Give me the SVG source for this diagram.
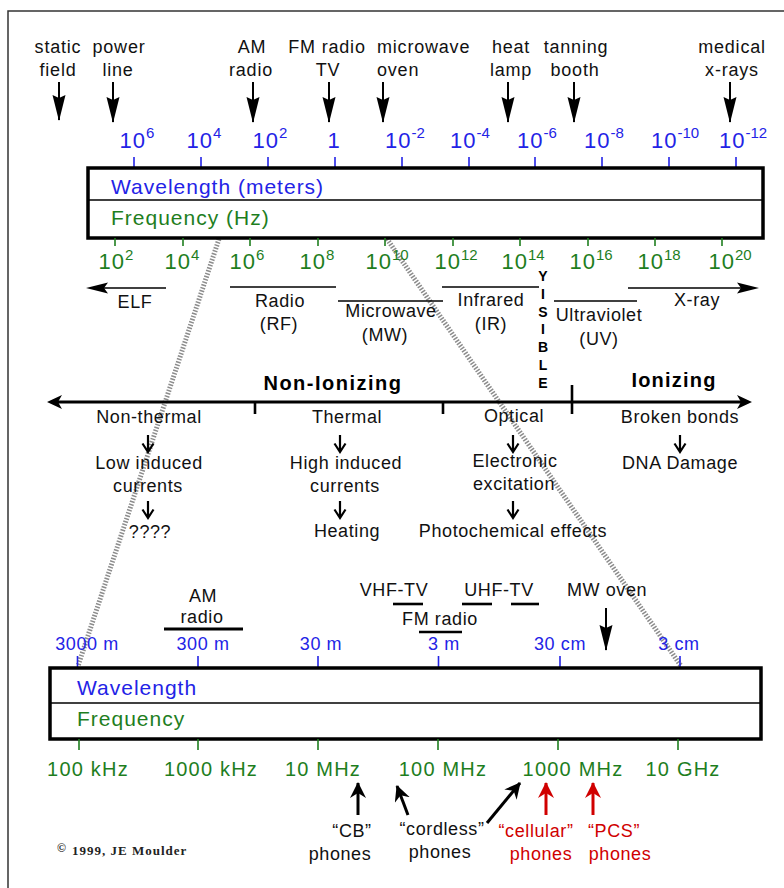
<svg xmlns="http://www.w3.org/2000/svg" width="784" height="888" viewBox="0 0 784 888">
<style>
text{font-family:"Liberation Sans",Arial,sans-serif;}
.lbl{font-size:18px;letter-spacing:0.8px;text-anchor:middle;fill:#111}
.t{font-size:18px;letter-spacing:0.6px;text-anchor:middle;fill:#111}
.red{fill:#d00000}
.wl{font-size:22px;letter-spacing:1px;text-anchor:middle;fill:#2323e6}
.fq{font-size:22px;letter-spacing:1px;text-anchor:middle;fill:#1e7e1e}
.sup{font-size:15px;letter-spacing:0px}
.wlm{font-size:18px;letter-spacing:0.6px;text-anchor:middle;fill:#2323e6}
.fqm{font-size:20px;letter-spacing:1.2px;text-anchor:middle;fill:#1e7e1e}
.title-b{font-size:21px;letter-spacing:1px;fill:#2323e6}
.title-g{font-size:21px;letter-spacing:1px;fill:#1e7e1e}
.bold{font-weight:bold;fill:#000}
.box{fill:#fff;stroke:#000;stroke-width:3.5}
.div{stroke:#000;stroke-width:1.3}
.tb{stroke:#2323e6;stroke-width:1.6}
.tg{stroke:#1e7e1e;stroke-width:1.6}
.band{stroke:#000;stroke-width:1.6}
.hatch{fill:none;stroke:#8c8c8c;stroke-width:5;stroke-dasharray:1.5 1.5}
.arr{stroke:#000;stroke-width:2;fill:none}
.small{stroke:#000;stroke-width:2.2;fill:none}
.ph{stroke:#000;stroke-width:3;fill:none}
.phr{stroke:#d00000;stroke-width:3;fill:none}
</style>
<defs>
<marker id="ah" viewBox="0 -7 26 14" refX="25" refY="0" markerWidth="26" markerHeight="14" markerUnits="userSpaceOnUse" orient="auto">
<path d="M0,-6.5 L26,0 L0,6.5 L3,0 z" fill="#000"/>
</marker>
<marker id="ahB" viewBox="0 -8 16 16" refX="15" refY="0" markerWidth="16" markerHeight="16" markerUnits="userSpaceOnUse" orient="auto">
<path d="M0,-8 L16,0 L0,8 L5,0 z" fill="#000"/>
</marker>
<marker id="ahR" viewBox="0 -8 16 16" refX="15" refY="0" markerWidth="16" markerHeight="16" markerUnits="userSpaceOnUse" orient="auto">
<path d="M0,-8 L16,0 L0,8 L5,0 z" fill="#d00000"/>
</marker>
<path id="sa" d="M0,0 V17 M-5.5,8.5 L0,17 L5.5,8.5"/>
</defs>

<!-- frame -->
<path d="M784,11 H8 V888" fill="none" stroke="#333" stroke-width="1.5"/>

<!-- zoom hatch lines -->
<g id="zoom-lines">
<line class="hatch" x1="219" y1="239" x2="78" y2="666"/>
<line class="hatch" x1="387" y1="239" x2="681" y2="666"/>
</g>

<!-- top source labels -->
<g id="sources">
<text class="lbl" x="58" y="53">static</text><text class="lbl" x="58" y="76">field</text>
<text class="lbl" x="119" y="53">power</text><text class="lbl" x="118" y="76">line</text>
<text class="lbl" x="252" y="53">AM</text><text class="lbl" x="251" y="76">radio</text>
<text class="lbl" x="327" y="53">FM radio</text><text class="lbl" x="328" y="76">TV</text>
<text class="lbl" x="377" y="53" style="text-anchor:start">microwave</text><text class="lbl" x="377" y="76" style="text-anchor:start">oven</text>
<text class="lbl" x="511" y="53">heat</text><text class="lbl" x="511" y="76">lamp</text>
<text class="lbl" x="576" y="53">tanning</text><text class="lbl" x="575" y="76">booth</text>
<text class="lbl" x="732" y="53">medical</text><text class="lbl" x="732" y="76">x-rays</text>
</g>

<!-- connectors -->
<g id="connectors">
<line class="arr" x1="59" y1="82" x2="59" y2="120" marker-end="url(#ah)"/>
<line class="arr" x1="113" y1="82" x2="113" y2="122" marker-end="url(#ah)"/>
<line class="arr" x1="253" y1="82" x2="253" y2="122" marker-end="url(#ah)"/>
<line class="arr" x1="329" y1="82" x2="329" y2="122" marker-end="url(#ah)"/>
<line class="arr" x1="383" y1="82" x2="383" y2="122" marker-end="url(#ah)"/>
<line class="arr" x1="508" y1="82" x2="508" y2="122" marker-end="url(#ah)"/>
<line class="arr" x1="574" y1="82" x2="574" y2="122" marker-end="url(#ah)"/>
<line class="arr" x1="730" y1="82" x2="730" y2="122" marker-end="url(#ah)"/>
<line class="arr" x1="606" y1="608" x2="606" y2="650" marker-end="url(#ah)"/>
<!-- effects arrows -->
<use href="#sa" class="small" x="148" y="435"/>
<use href="#sa" class="small" x="148" y="501"/>
<use href="#sa" class="small" x="340" y="435"/>
<use href="#sa" class="small" x="340" y="501"/>
<use href="#sa" class="small" x="513" y="435"/>
<use href="#sa" class="small" x="513" y="501"/>
<use href="#sa" class="small" x="680" y="435"/>
<!-- phone arrows -->
<line class="ph" x1="358" y1="815" x2="358" y2="783" marker-end="url(#ahB)"/>
<line class="ph" x1="408" y1="815" x2="397" y2="786" marker-end="url(#ahB)"/>
<line class="ph" x1="487" y1="823" x2="520" y2="783" marker-end="url(#ahB)"/>
<line class="phr" x1="546" y1="815" x2="546" y2="783" marker-end="url(#ahR)"/>
<line class="phr" x1="593" y1="815" x2="593" y2="783" marker-end="url(#ahR)"/>
</g>

<!-- top scale -->
<g id="top-scale">
<g>
<line class="tb" x1="134" y1="157" x2="134" y2="168"/><line class="tb" x1="201" y1="157" x2="201" y2="168"/>
<line class="tb" x1="268" y1="157" x2="268" y2="168"/><line class="tb" x1="335" y1="157" x2="335" y2="168"/>
<line class="tb" x1="402" y1="157" x2="402" y2="168"/><line class="tb" x1="469" y1="157" x2="469" y2="168"/>
<line class="tb" x1="535" y1="157" x2="535" y2="168"/><line class="tb" x1="602" y1="157" x2="602" y2="168"/>
<line class="tb" x1="669" y1="157" x2="669" y2="168"/><line class="tb" x1="736" y1="157" x2="736" y2="168"/>
</g>
<text class="wl" x="137" y="148">10<tspan class="sup" dy="-10">6</tspan></text>
<text class="wl" x="204" y="148">10<tspan class="sup" dy="-10">4</tspan></text>
<text class="wl" x="270" y="148">10<tspan class="sup" dy="-10">2</tspan></text>
<text class="wl" x="334" y="148">1</text>
<text class="wl" x="405" y="148">10<tspan class="sup" dy="-10">-2</tspan></text>
<text class="wl" x="470" y="148">10<tspan class="sup" dy="-10">-4</tspan></text>
<text class="wl" x="537" y="148">10<tspan class="sup" dy="-10">-6</tspan></text>
<text class="wl" x="604" y="148">10<tspan class="sup" dy="-10">-8</tspan></text>
<text class="wl" x="675" y="148">10<tspan class="sup" dy="-10">-10</tspan></text>
<text class="wl" x="743" y="148">10<tspan class="sup" dy="-10">-12</tspan></text>
</g>

<g id="top-box">
<rect class="box" x="88" y="168" width="675" height="70"/>
<line class="div" x1="88" y1="200" x2="763" y2="200"/>
<text class="title-b" x="111" y="194">Wavelength (meters)</text>
<text class="title-g" x="111" y="225">Frequency (Hz)</text>
</g>

<g id="freq-scale">
<g>
<line class="tg" x1="115" y1="238" x2="115" y2="246"/><line class="tg" x1="183" y1="238" x2="183" y2="246"/>
<line class="tg" x1="250" y1="238" x2="250" y2="246"/><line class="tg" x1="318" y1="238" x2="318" y2="246"/>
<line class="tg" x1="385" y1="238" x2="385" y2="246"/><line class="tg" x1="453" y1="238" x2="453" y2="246"/>
<line class="tg" x1="520" y1="238" x2="520" y2="246"/><line class="tg" x1="588" y1="238" x2="588" y2="246"/>
<line class="tg" x1="655" y1="238" x2="655" y2="246"/><line class="tg" x1="722" y1="238" x2="722" y2="246"/>
</g>
<text class="fq" x="116" y="269">10<tspan class="sup" dy="-9">2</tspan></text>
<text class="fq" x="182" y="269">10<tspan class="sup" dy="-9">4</tspan></text>
<text class="fq" x="247" y="269">10<tspan class="sup" dy="-9">6</tspan></text>
<text class="fq" x="317" y="269">10<tspan class="sup" dy="-9">8</tspan></text>
<text class="fq" x="387" y="269">10<tspan class="sup" dy="-9">10</tspan></text>
<text class="fq" x="456" y="269">10<tspan class="sup" dy="-9">12</tspan></text>
<text class="fq" x="523" y="269">10<tspan class="sup" dy="-9">14</tspan></text>
<text class="fq" x="591" y="269">10<tspan class="sup" dy="-9">16</tspan></text>
<text class="fq" x="659" y="269">10<tspan class="sup" dy="-9">18</tspan></text>
<text class="fq" x="730" y="269">10<tspan class="sup" dy="-9">20</tspan></text>
</g>

<!-- bands -->
<g id="band-elf">
<line class="band" x1="104" y1="288" x2="166" y2="288"/>
<polygon points="86,288 108,282.5 104,288 108,293.5" fill="#000"/>
<text class="t" x="135" y="308">ELF</text>
</g>
<g id="band-radio">
<line class="band" x1="230" y1="287" x2="336" y2="287"/>
<text class="t" x="280" y="307">Radio</text><text class="t" x="279" y="330">(RF)</text>
</g>
<g id="band-mw">
<line class="band" x1="338" y1="301" x2="443" y2="301"/>
<text class="t" x="391" y="317">Microwave</text><text class="t" x="385" y="341">(MW)</text>
</g>
<g id="band-ir">
<line class="band" x1="442" y1="287" x2="539" y2="287"/>
<text class="t" x="491" y="306">Infrared</text><text class="t" x="491" y="330">(IR)</text>
</g>
<g id="band-visible" style="font-size:14px;font-weight:bold;text-anchor:middle">
<text x="543" y="281">Y</text><text x="543" y="299">I</text><text x="543" y="317">S</text><text x="543" y="334">I</text>
<text x="543" y="352">B</text><text x="543" y="370">L</text><text x="543" y="388">E</text>
</g>
<g id="band-uv">
<line class="band" x1="554" y1="301" x2="637" y2="301"/>
<text class="t" x="599" y="321">Ultraviolet</text><text class="t" x="599" y="345">(UV)</text>
</g>
<g id="band-xray">
<line class="band" x1="628" y1="288" x2="745" y2="288"/>
<polygon points="759,288 737,282.5 741,288 737,293.5" fill="#000"/>
<text class="t" x="697" y="306">X-ray</text>
</g>

<!-- ionizing axis -->
<g id="axis">
<line x1="52" y1="402" x2="747" y2="402" stroke="#000" stroke-width="3"/>
<polygon points="47,402 62,395 58,402 62,409" fill="#000"/>
<polygon points="752,402 737,395 741,402 737,409" fill="#000"/>
<line x1="255" y1="402" x2="255" y2="414" stroke="#000" stroke-width="2.6"/>
<line x1="443" y1="402" x2="443" y2="414" stroke="#000" stroke-width="2.6"/>
<line x1="572" y1="385" x2="572" y2="414" stroke="#000" stroke-width="2.6"/>
<text class="bold" x="333" y="390" style="font-size:20px;letter-spacing:1.5px;text-anchor:middle">Non-Ionizing</text>
<text class="bold" x="674" y="387" style="font-size:20px;letter-spacing:1.2px;text-anchor:middle">Ionizing</text>
</g>

<g id="col-nonthermal">
<text class="t" x="149" y="423">Non-thermal</text>
<text class="t" x="149" y="469">Low induced</text>
<text class="t" x="148" y="492">currents</text>
<text class="t" x="150" y="538">????</text>
</g>
<g id="col-thermal">
<text class="t" x="347" y="423">Thermal</text>
<text class="t" x="346" y="469">High induced</text>
<text class="t" x="345" y="492">currents</text>
<text class="t" x="347" y="537">Heating</text>
</g>
<g id="col-optical">
<text class="t" x="514" y="422">Optical</text>
<text class="t" x="515" y="467">Electronic</text>
<text class="t" x="514" y="490">excitation</text>
<text class="t" x="513" y="537">Photochemical effects</text>
</g>
<g id="col-ionizing">
<text class="t" x="680" y="423">Broken bonds</text>
<text class="t" x="680" y="469">DNA Damage</text>
</g>

<!-- bottom services -->
<g id="svc-am">
<text class="t" x="203" y="602">AM</text><text class="t" x="202" y="623">radio</text>
<line x1="164" y1="629" x2="243" y2="629" stroke="#000" stroke-width="3"/>
</g>
<g id="svc-vhf">
<text class="t" x="394" y="596">VHF-TV</text>
<line x1="393" y1="604" x2="423" y2="604" stroke="#000" stroke-width="2.6"/>
</g>
<g id="svc-uhf">
<text class="t" x="499" y="596">UHF-TV</text>
<line x1="462" y1="604" x2="492" y2="604" stroke="#000" stroke-width="2.6"/>
<line x1="511" y1="604" x2="539" y2="604" stroke="#000" stroke-width="2.6"/>
</g>
<g id="svc-fm">
<text class="t" x="440" y="625">FM radio</text>
<line x1="419" y1="632" x2="462" y2="632" stroke="#000" stroke-width="2.6"/>
</g>
<g id="svc-mw">
<text class="t" x="607" y="596">MW oven</text>
</g>

<g id="bottom-scale">
<text class="wlm" x="87" y="650">3000 m</text>
<text class="wlm" x="203" y="650">300 m</text>
<text class="wlm" x="321" y="650">30 m</text>
<text class="wlm" x="444" y="650">3 m</text>
<text class="wlm" x="560" y="650">30 cm</text>
<text class="wlm" x="679" y="650">3 cm</text>
<line class="tb" x1="77.5" y1="656" x2="77.5" y2="668"/><line class="tb" x1="198" y1="656" x2="198" y2="668"/>
<line class="tb" x1="318" y1="656" x2="318" y2="668"/><line class="tb" x1="438.5" y1="656" x2="438.5" y2="668"/>
<line class="tb" x1="560" y1="656" x2="560" y2="668"/><line class="tb" x1="680" y1="656" x2="680" y2="668"/>
</g>

<g id="bottom-box">
<rect class="box" x="50" y="668" width="711" height="71"/>
<line class="div" x1="50" y1="703" x2="761" y2="703"/>
<text class="title-b" x="77" y="695">Wavelength</text>
<text class="title-g" x="77" y="726">Frequency</text>
</g>

<g id="bottom-freq">
<line class="tg" x1="79" y1="739" x2="79" y2="750"/><line class="tg" x1="198" y1="739" x2="198" y2="750"/>
<line class="tg" x1="318" y1="739" x2="318" y2="750"/><line class="tg" x1="438" y1="739" x2="438" y2="750"/>
<line class="tg" x1="558" y1="739" x2="558" y2="750"/><line class="tg" x1="678" y1="739" x2="678" y2="750"/>
<text class="fqm" x="88" y="776">100 kHz</text>
<text class="fqm" x="211" y="776">1000 kHz</text>
<text class="fqm" x="323" y="776">10 MHz</text>
<text class="fqm" x="443" y="776">100 MHz</text>
<text class="fqm" x="573" y="776">1000 MHz</text>
<text class="fqm" x="683" y="776">10 GHz</text>
</g>

<g id="phone-cb">
<text class="t" x="352" y="837">“CB”</text><text class="t" x="340" y="860">phones</text>
</g>
<g id="phone-cordless">
<text class="t" x="442" y="835">“cordless”</text><text class="t" x="440" y="858">phones</text>
</g>
<g id="phone-cellular">
<text class="t red" x="536" y="837">“cellular”</text><text class="t red" x="541" y="860">phones</text>
</g>
<g id="phone-pcs">
<text class="t red" x="614" y="837">“PCS”</text><text class="t red" x="620" y="860">phones</text>
</g>

<g id="copyright">
<text x="57" y="852" style="font-family:'Liberation Serif',serif;font-size:12px;font-weight:bold;fill:#222">©</text>
<text x="72" y="855" style="font-family:'Liberation Serif',serif;font-size:13px;font-weight:bold;letter-spacing:1px;fill:#222">1999, JE Moulder</text>
</g>
</svg>
